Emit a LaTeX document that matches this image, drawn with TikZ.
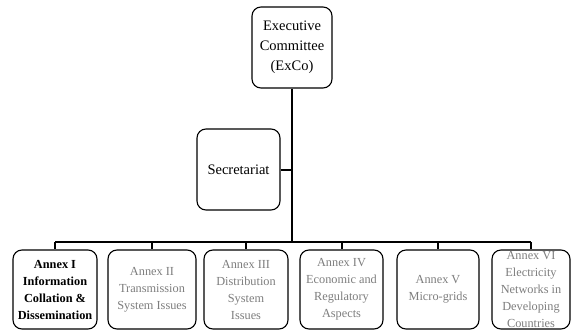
\documentclass[tikz,border=0pt]{standalone}
\usepackage{fontspec}
\setmainfont{Liberation Serif}
\definecolor{annexgray}{RGB}{125,125,125}
\begin{document}
\begin{tikzpicture}[x=1pt,y=-1pt,
  box/.style={draw=black,line width=1.1pt,rounded corners=9pt,rectangle,inner sep=0pt,align=center,minimum height=79pt},
  topbox/.style={box,minimum width=80pt,minimum height=81pt,font=\fontsize{14.5}{20}\selectfont},
  annex/.style={box,font=\fontsize{12.3}{17}\selectfont,text=annexgray},
  conn/.style={line width=2.4pt},
  drop/.style={line width=2pt}]
\useasboundingbox (0,0) rectangle (572,332);
\node[topbox] (exco) at (292,47.5) {Executive\\Committee\\(ExCo)};
\node[topbox,minimum width=83pt] (sec) at (238.5,169.5) {Secretariat};
\node[annex,minimum width=84pt,text=black,font=\fontsize{12.3}{17}\selectfont\bfseries] (a1) at (55,289.5) {Annex I\\Information\\Collation \&\\Dissemination};
\node[annex,minimum width=88pt] (a2) at (152,289.5) {Annex II\\Transmission\\System Issues};
\node[annex,minimum width=84pt] (a3) at (246,289.5) {Annex III\\Distribution\\System\\Issues};
\node[annex,minimum width=83pt] (a4) at (341.5,289.5) {Annex IV\\Economic and\\Regulatory\\Aspects};
\node[annex,minimum width=82pt] (a5) at (438,289.5) {Annex V\\Micro-grids};
\node[annex,minimum width=78pt] (a6) at (531,289.5) {Annex VI\\Electricity\\Networks in\\Developing\\Countries};
\coordinate (bus) at (292,242);
\draw[conn] (exco.south) -- (bus);
\draw[drop] (sec.east) -- (sec.east -| exco.south);
\draw[conn] (a1.north |- bus) -- (a6.north |- bus);
\foreach \n in {a1,a2,a3,a4,a5,a6}{
  \draw[drop] (\n.north |- bus) -- (\n.north);
}
\end{tikzpicture}
\end{document}
